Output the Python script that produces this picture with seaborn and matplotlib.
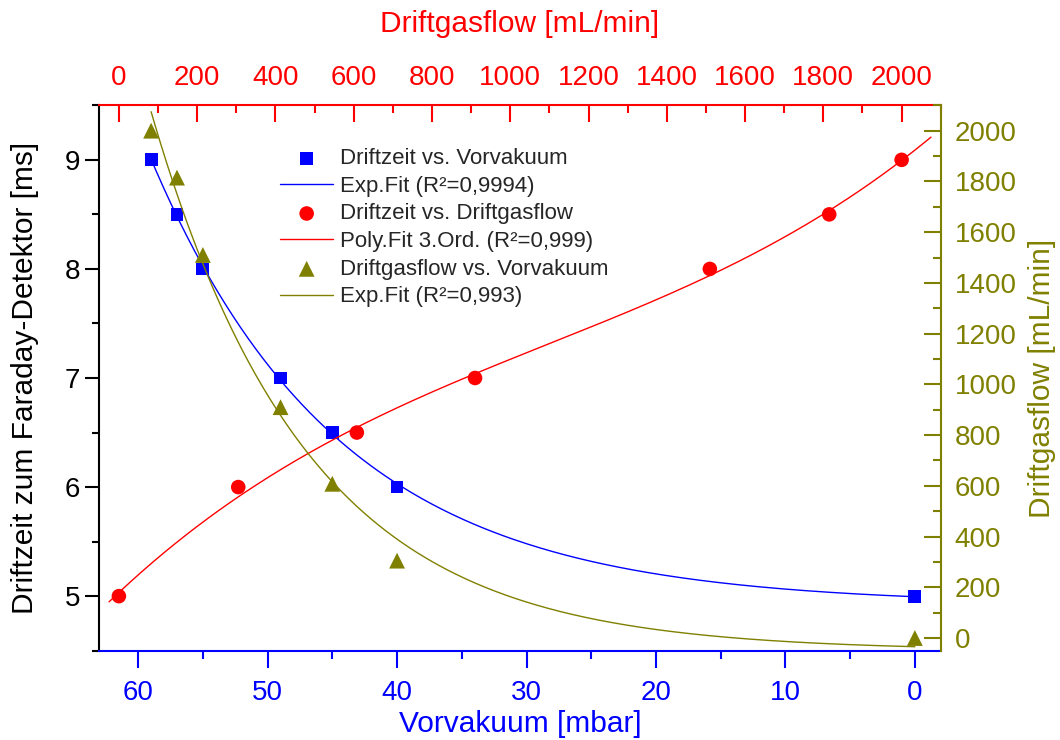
import numpy as np
import pandas as pd
import matplotlib.pyplot as plt
from matplotlib.ticker import MultipleLocator
import seaborn as sns

sns.set_style("ticks")
plt.rcParams['font.family'] = ['Liberation Sans', 'DejaVu Sans']

# ── Data ──────────────────────────────────────────────────────
vorvakuum    = [59, 57, 55, 49, 45, 40, 0]                    # mbar
driftzeit    = [9.0, 8.5, 8.0, 7.0, 6.5, 6.0, 5.0]           # ms
driftgasflow = [2000, 1815, 1510, 910, 608, 305, 0]           # mL/min

BLUE, RED, OLIVE = '#0000FF', '#FF0000', '#808000'


def exp_fit(x, y):
    # y = y0 + A*exp(x/t), grid search over t, linear lsq for y0, A
    x = np.asarray(x, float)
    y = np.asarray(y, float)
    best = None
    for t in np.linspace(2, 80, 4000):
        M = np.column_stack([np.ones_like(x), np.exp(x / t)])
        coef, *_ = np.linalg.lstsq(M, y, rcond=None)
        sse = ((M @ coef - y) ** 2).sum()
        if best is None or sse < best[0]:
            best = (sse, t, coef)
    _, t, (y0, a) = best
    return lambda xx: y0 + a * np.exp(np.asarray(xx) / t)


x_fit = np.linspace(0, 59, 300)
blue_fit = exp_fit(vorvakuum, driftzeit)(x_fit)
olive_fit = exp_fit(vorvakuum, driftgasflow)(x_fit)

poly = np.polyfit(driftgasflow, driftzeit, 3)
flow_fit = np.linspace(-25, 2075, 300)
red_fit = np.polyval(poly, flow_fit)

# ── Figure ────────────────────────────────────────────────────
fig = plt.figure(figsize=(10.6, 7.4), dpi=100, facecolor='white')
ax = fig.add_axes([0.0937, 0.1207, 0.8875 - 0.0937, 0.8577 - 0.1207])
ax_top = ax.twiny()
ax_right = ax.twinx()

# Driftzeit vs Vorvakuum (bottom / left)
sns.lineplot(x=x_fit, y=blue_fit, ax=ax, color=BLUE, lw=1,
             label='Exp.Fit (R²=0,9994)')
sns.scatterplot(x=vorvakuum, y=driftzeit, ax=ax, color=BLUE, marker='s',
                s=85, edgecolor='none', label='Driftzeit vs. Vorvakuum', zorder=3)

# Driftzeit vs Driftgasflow (top / left)
sns.lineplot(x=flow_fit, y=red_fit, ax=ax_top, color=RED, lw=1,
             label='Poly.Fit 3.Ord. (R²=0,999)')
sns.scatterplot(x=driftgasflow, y=driftzeit, ax=ax_top, color=RED, marker='o',
                s=110, edgecolor='none', label='Driftzeit vs. Driftgasflow', zorder=3)

# Driftgasflow vs Vorvakuum (bottom / right)
sns.lineplot(x=x_fit, y=olive_fit, ax=ax_right, color=OLIVE, lw=1,
             label='Exp.Fit (R²=0,993)')
sns.scatterplot(x=vorvakuum, y=driftgasflow, ax=ax_right, color=OLIVE, marker='^',
                s=130, edgecolor='none', label='Driftgasflow vs. Vorvakuum', zorder=3)

# ── Axes limits & ticks ───────────────────────────────────────
ax.set_xlim(63, -2)
ax.set_ylim(4.5, 9.5)
ax_top.set_xlim(-50, 2100)
ax_right.set_ylim(-50, 2100)

ax.xaxis.set_major_locator(MultipleLocator(10))
ax.xaxis.set_minor_locator(MultipleLocator(5))
ax.yaxis.set_major_locator(MultipleLocator(1))
ax.yaxis.set_minor_locator(MultipleLocator(0.5))
ax_top.xaxis.set_major_locator(MultipleLocator(200))
ax_top.xaxis.set_minor_locator(MultipleLocator(100))
ax_right.yaxis.set_major_locator(MultipleLocator(200))
ax_right.yaxis.set_minor_locator(MultipleLocator(100))

ax.tick_params(axis='x', which='major', direction='out', length=12, width=1.5,
               colors=BLUE, labelsize=20, pad=9)
ax.tick_params(axis='x', which='minor', direction='out', length=6, width=1.5, colors=BLUE)
ax.tick_params(axis='y', which='major', direction='out', length=10, width=1.5,
               colors='black', labelsize=20, pad=4)
ax.tick_params(axis='y', which='minor', direction='out', length=5, width=1.5, colors='black')
ax_top.tick_params(axis='x', which='major', direction='in', length=12, width=1.5,
                   colors=RED, labelsize=20, pad=10)
ax_top.tick_params(axis='x', which='minor', direction='in', length=6, width=1.5, colors=RED)
ax_right.tick_params(axis='y', which='major', direction='in', length=12, width=1.5,
                     colors=OLIVE, labelsize=20, pad=10)
ax_right.tick_params(axis='y', which='minor', direction='in', length=6, width=1.5, colors=OLIVE)

# ── Spines ────────────────────────────────────────────────────
for a in (ax, ax_top, ax_right):
    for s in a.spines.values():
        s.set_visible(False)
        s.set_linewidth(1.5)
ax.spines['left'].set_visible(True)
ax.spines['left'].set_color('black')
ax.spines['bottom'].set_visible(True)
ax.spines['bottom'].set_color(BLUE)
ax_top.spines['top'].set_visible(True)
ax_top.spines['top'].set_color(RED)
ax_right.spines['right'].set_visible(True)
ax_right.spines['right'].set_color(OLIVE)

# ── Labels ────────────────────────────────────────────────────
ax.set_xlabel('Vorvakuum [mbar]', color=BLUE, fontsize=21.5, labelpad=3)
ax.set_ylabel('Driftzeit zum Faraday-Detektor [ms]', color='black', fontsize=21.5, labelpad=18)
ax_top.set_xlabel('Driftgasflow [mL/min]', color=RED, fontsize=21.5, labelpad=24)
ax_right.set_ylabel('Driftgasflow [mL/min]', color=OLIVE, fontsize=21.5, labelpad=8)

# ── Legend ────────────────────────────────────────────────────
handles, labels = [], []
for a in (ax, ax_top, ax_right):
    h, l = a.get_legend_handles_labels()
    # scatter first, then fit
    handles += [h[1], h[0]]
    labels += [l[1], l[0]]
    if a.get_legend() is not None:
        a.get_legend().remove()

ax_right.legend(handles, labels, loc='upper left',
                bbox_to_anchor=(280 / 1060, 1 - 148 / 740),
                bbox_transform=fig.transFigure, frameon=False,
                fontsize=16, handlelength=2.4, handletextpad=0.3,
                labelspacing=0.3, borderpad=0, borderaxespad=0)

fig.savefig('out.png', dpi=100)
